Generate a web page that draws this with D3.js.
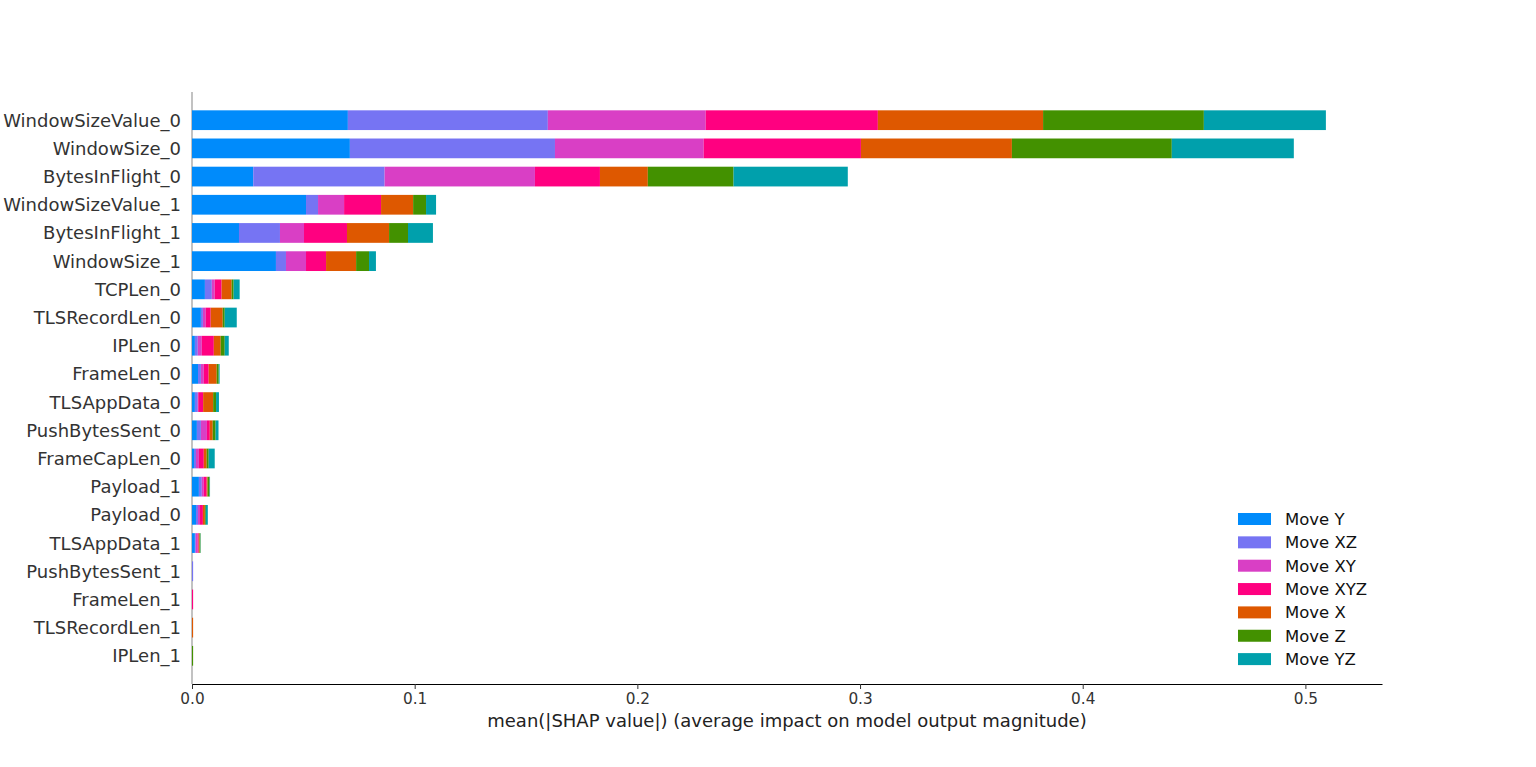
<!DOCTYPE html>
<html>
<head>
<meta charset="utf-8">
<script src="https://cdn.jsdelivr.net/npm/d3@7"></script>
<style>
  body { margin: 0; background: #fff; }
  svg { font-family: "DejaVu Sans", sans-serif; }
</style>
</head>
<body>
<script>
// features, top to bottom
var features = ["WindowSizeValue_0", "WindowSize_0", "BytesInFlight_0", "WindowSizeValue_1",
  "BytesInFlight_1", "WindowSize_1", "TCPLen_0", "TLSRecordLen_0", "IPLen_0", "FrameLen_0",
  "TLSAppData_0", "PushBytesSent_0", "FrameCapLen_0", "Payload_1", "Payload_0", "TLSAppData_1",
  "PushBytesSent_1", "FrameLen_1", "TLSRecordLen_1", "IPLen_1"];

var classes = ["Move Y", "Move XZ", "Move XY", "Move XYZ", "Move X", "Move Z", "Move YZ"];
var classColors = ["#008bfb", "#7674f3", "#d93fc5", "#ff0080", "#de5800", "#439100", "#00a0ac"];

// mean(|SHAP|) per class, same order as features
var moveY   = [0.0700, 0.0709, 0.0275, 0.0512, 0.0211, 0.0377, 0.0058, 0.0040, 0.0013, 0.0027, 0.0013, 0.0022, 0.0009, 0.0031, 0.0018, 0.0013, 0, 0, 0, 0];
var moveXZ  = [0.0898, 0.0921, 0.0590, 0.0054, 0.0184, 0.0045, 0.0031, 0.0009, 0.0013, 0.0013, 0.0013, 0.0018, 0.0009, 0.0013, 0.0009, 0.0004, 0.0005, 0, 0, 0];
var moveXY  = [0.0709, 0.0668, 0.0675, 0.0117, 0.0108, 0.0090, 0.0013, 0.0013, 0.0018, 0.0013, 0.0002, 0.0027, 0.0013, 0.0009, 0.0009, 0.0009, 0, 0, 0, 0];
var moveXYZ = [0.0773, 0.0706, 0.0292, 0.0166, 0.0193, 0.0090, 0.0031, 0.0022, 0.0054, 0.0022, 0.0022, 0.0013, 0.0022, 0.0013, 0.0013, 0.0004, 0, 0.0005, 0, 0];
var moveX   = [0.0742, 0.0678, 0.0215, 0.0144, 0.0189, 0.0135, 0.0045, 0.0054, 0.0031, 0.0036, 0.0045, 0.0013, 0.0013, 0.0004, 0.0009, 0.0004, 0, 0, 0.0005, 0];
var moveZ   = [0.0722, 0.0718, 0.0385, 0.0058, 0.0085, 0.0058, 0.0009, 0.0009, 0.0018, 0.0009, 0.0013, 0.0013, 0.0009, 0.0009, 0.0004, 0.0004, 0, 0, 0, 0.0005];
var moveYZ  = [0.0548, 0.0548, 0.0513, 0.0045, 0.0112, 0.0031, 0.0027, 0.0054, 0.0018, 0.0004, 0.0013, 0.0013, 0.0027, 0.0002, 0.0009, 0.0001, 0, 0, 0, 0];

var xTicks = [0, 0.1, 0.2, 0.3, 0.4, 0.5];

var series = [moveY, moveXZ, moveXY, moveXYZ, moveX, moveZ, moveYZ];
var rows = features.map(function(f, i) {
    var r = {feature: f};
    classes.forEach(function(c, k) { r[c] = series[k][i]; });
    return r;
});

var W = 1536, H = 767;
var svg = d3.select("body").append("svg").attr("width", W).attr("height", H);

var x = d3.scaleLinear().domain([0, 0.5344]).range([192, 1382]);
var y = d3.scaleLinear().domain([-1, features.length]).range([92, 684]);
var barH = 0.7 * (y(1) - y(0));

var stack = d3.stack().keys(classes);
var stacked = stack(rows);

// gray zero line
svg.append("line")
    .attr("x1", x(0)).attr("x2", x(0))
    .attr("y1", y(-1)).attr("y2", y(features.length))
    .attr("stroke", "#999999").attr("stroke-width", 1.2);

var groups = svg.selectAll("g.layer")
    .data(stacked)
    .enter().append("g")
    .attr("class", "layer")
    .attr("fill", function(d, i) { return classColors[i]; });

groups.selectAll("rect")
    .data(function(d) { return d; })
    .enter().append("rect")
    .attr("x", function(d) { return x(d[0]); })
    .attr("width", function(d) { return Math.max(0, x(d[1]) - x(d[0])); })
    .attr("y", function(d, i) { return y(i) - barH / 2; })
    .attr("height", barH);

// y labels
svg.selectAll("text.ylab")
    .data(features)
    .enter().append("text")
    .attr("class", "ylab")
    .attr("x", 181)
    .attr("y", function(d, i) { return y(i); })
    .attr("dy", "0.36em")
    .attr("text-anchor", "end")
    .attr("font-size", "18px")
    .attr("fill", "#333333")
    .text(function(d) { return d; });

// x axis
var xAxis = svg.append("g")
    .attr("transform", "translate(0," + y(features.length) + ")")
    .call(d3.axisBottom(x).tickValues(xTicks).tickFormat(d3.format(".1f"))
        .tickSizeInner(5).tickSizeOuter(0).tickPadding(4));
xAxis.select(".domain").attr("stroke", "#000").attr("stroke-width", 1.1);
xAxis.selectAll(".tick line").attr("stroke", "#333333");
xAxis.selectAll(".tick text")
    .attr("font-size", "15.3px")
    .attr("font-family", "DejaVu Sans")
    .attr("fill", "#333333");

svg.append("text")
    .attr("x", (x.range()[0] + x.range()[1]) / 2)
    .attr("y", 727)
    .attr("text-anchor", "middle")
    .attr("font-size", "18px")
    .attr("fill", "#222")
    .text("mean(|SHAP value|) (average impact on model output magnitude)");

// legend
var legend = svg.append("g");
var lg = legend.selectAll("g")
    .data(classes)
    .enter().append("g")
    .attr("transform", function(d, i) { return "translate(1238," + (519 + i * 23.35) + ")"; });
lg.append("rect")
    .attr("x", 0).attr("y", -6)
    .attr("width", 33).attr("height", 12)
    .attr("fill", function(d, i) { return classColors[i]; });
lg.append("text")
    .attr("x", 47)
    .attr("dy", "0.36em")
    .attr("font-size", "16.5px")
    .attr("fill", "#111")
    .text(function(d) { return d; });
</script>
</body>
</html>
